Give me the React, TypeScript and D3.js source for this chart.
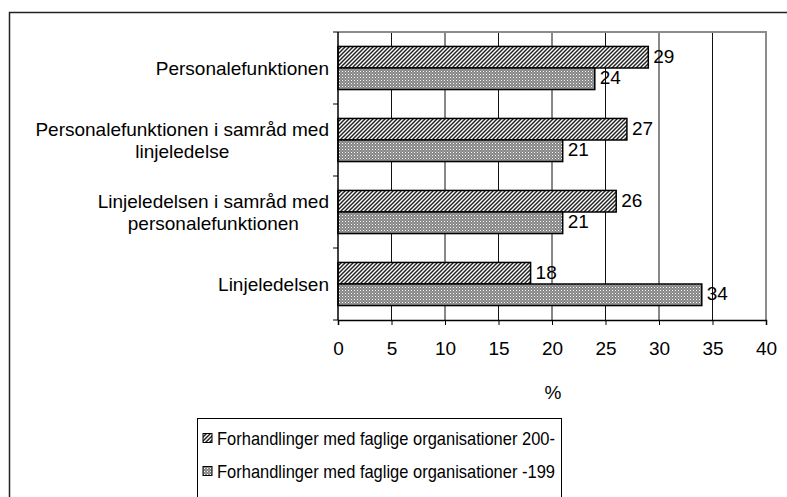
import * as d3 from "d3";
import { useEffect, useRef } from "react";

const categories = [
  "Personalefunktionen",
  "Personalefunktionen i samråd med\nlinjeledelse",
  "Linjeledelsen i samråd med\npersonalefunktionen",
  "Linjeledelsen",
];
const seriesNames = [
  "Forhandlinger med faglige organisationer 200-",
  "Forhandlinger med faglige organisationer -199",
];
const values200 = [29, 27, 26, 18];
const values199 = [24, 21, 21, 34];
const xTicks = [0, 5, 10, 15, 20, 25, 30, 35, 40];

const FONT = "'Liberation Sans', Arial, sans-serif";

export default function App() {
  const ref = useRef<SVGSVGElement>(null);

  useEffect(() => {
    const svg = d3.select(ref.current);
    svg.selectAll("*").remove();
    const width = 787;
    const height = 497;
    const left = 338, right = 766, top = 32, bottom = 320;

    svg.attr("width", width).attr("height", height).style("font-family", FONT);

    // patterns
    const defs = svg.append("defs");
    const p1 = defs.append("pattern")
      .attr("id", "hatch").attr("patternUnits", "userSpaceOnUse")
      .attr("width", 4).attr("height", 4);
    p1.append("rect").attr("width", 4).attr("height", 4).attr("fill", "#fff");
    p1.append("path")
      .attr("d", "M0,4 L4,0 M-2,2 L2,-2 M2,6 L6,2")
      .attr("stroke", "#222").attr("stroke-width", 1.5);
    const p2 = defs.append("pattern")
      .attr("id", "dots").attr("patternUnits", "userSpaceOnUse")
      .attr("width", 3).attr("height", 3);
    p2.append("rect").attr("width", 3).attr("height", 3).attr("fill", "#858585");
    p2.append("rect").attr("width", 1).attr("height", 1).attr("fill", "#fff");
    p2.append("rect").attr("x", 1.5).attr("y", 1.5).attr("width", 1).attr("height", 1).attr("fill", "#c8c8c8");
    const fills = ["url(#hatch)", "url(#dots)"];

    // outer frame
    svg.append("rect")
      .attr("x", 9.5).attr("y", 12.5).attr("width", 800).attr("height", 520)
      .attr("fill", "#fff").attr("stroke", "#222").attr("stroke-width", 1.5);

    const x = d3.scaleLinear().domain([0, 40]).range([left, right]);
    const y = d3.scaleBand().domain(categories).range([top, bottom]);
    const yInner = d3.scaleBand().domain(["a", "b"]).range([0, y.bandwidth()]).paddingOuter(0.67);

    // grid
    svg.append("g").selectAll("line")
      .data(xTicks.slice(1, -1))
      .join("line")
      .attr("x1", d => x(d)).attr("x2", d => x(d))
      .attr("y1", top).attr("y2", bottom)
      .attr("stroke", "#111").attr("stroke-width", 1);

    // plot border top/right
    svg.append("path")
      .attr("d", `M${left},${top} H${right} V${bottom}`)
      .attr("fill", "none").attr("stroke", "#8c8c8c").attr("stroke-width", 2);

    // bars
    const rows = categories.map((c, i) => ({ c, vals: [values200[i], values199[i]] }));
    const groups = svg.append("g").selectAll("g")
      .data(rows).join("g")
      .attr("transform", d => `translate(0,${y(d.c)})`);
    ["a", "b"].forEach((k, si) => {
      groups.append("rect")
        .attr("x", x(0))
        .attr("y", yInner(k)!)
        .attr("width", d => x(d.vals[si]) - x(0))
        .attr("height", yInner.bandwidth())
        .attr("fill", fills[si])
        .attr("stroke", "#000").attr("stroke-width", 1.5);
      groups.append("text")
        .attr("x", d => x(d.vals[si]) + 5)
        .attr("y", yInner(k)! + yInner.bandwidth() / 2 - 1)
        .attr("dominant-baseline", "central")
        .attr("font-size", 19)
        .attr("fill", "#000")
        .text(d => d.vals[si]);
    });

    // axes
    const xAxis = svg.append("g").attr("transform", `translate(0,${bottom})`)
      .call(d3.axisBottom(x).tickValues(xTicks).tickSize(5).tickPadding(17));
    xAxis.select(".domain").attr("stroke", "#000").attr("stroke-width", 1.5);
    xAxis.selectAll(".tick line").attr("stroke", "#000");
    xAxis.selectAll("text").attr("font-size", 19).attr("font-family", FONT).attr("fill", "#000");

    const yAxisG = svg.append("g");
    yAxisG.append("line")
      .attr("x1", left).attr("x2", left).attr("y1", top).attr("y2", bottom)
      .attr("stroke", "#000").attr("stroke-width", 1.5);
    yAxisG.selectAll("line.tk")
      .data(d3.range(categories.length + 1))
      .join("line").attr("class", "tk")
      .attr("x1", left - 5).attr("x2", left)
      .attr("y1", i => top + i * y.step()).attr("y2", i => top + i * y.step())
      .attr("stroke", "#000");

    // category labels (multi-line centred, right edge at left - 9)
    categories.forEach(c => {
      const lines = c.split("\n");
      const cy = y(c)! + y.bandwidth() / 2;
      const t = svg.append("text")
        .attr("font-size", 19).attr("fill", "#000")
        .attr("text-anchor", "middle");
      lines.forEach((ln, i) => {
        t.append("tspan")
          .attr("x", 0)
          .attr("y", cy + (i - (lines.length - 1) / 2) * 22)
          .attr("dominant-baseline", "central")
          .text(ln);
      });
      const w = (t.node() as SVGTextElement).getBBox().width;
      t.selectAll("tspan").attr("x", left - 9 - w / 2);
    });

    // axis title
    svg.append("text")
      .attr("x", 553).attr("y", 392)
      .attr("text-anchor", "middle").attr("dominant-baseline", "central")
      .attr("font-size", 19).text("%");

    // legend
    const lg = svg.append("g");
    lg.append("rect")
      .attr("x", 197.5).attr("y", 418.5).attr("width", 364).attr("height", 100)
      .attr("fill", "#fff").attr("stroke", "#000").attr("stroke-width", 1);
    seriesNames.forEach((s, i) => {
      const cy = 438 + i * 33;
      lg.append("rect")
        .attr("x", 203).attr("y", cy - 4.5).attr("width", 9).attr("height", 9)
        .attr("fill", fills[i]).attr("stroke", "#000").attr("stroke-width", 1);
      lg.append("text")
        .attr("x", 217).attr("y", cy)
        .attr("dominant-baseline", "central")
        .attr("font-size", 19)
        .attr("textLength", 338).attr("lengthAdjust", "spacingAndGlyphs")
        .text(s);
    });
  }, []);

  return <svg ref={ref} style={{ position: "absolute", left: 0, top: 0 }} />;
}
